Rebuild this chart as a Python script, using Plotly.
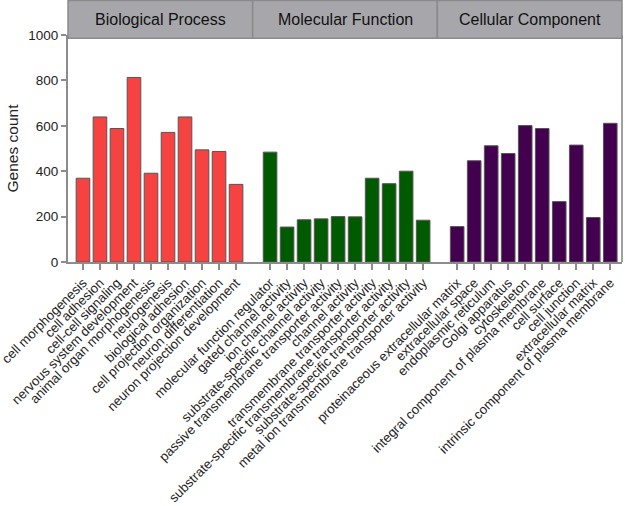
import plotly.graph_objects as go

groups = ["Biological Process", "Molecular Function", "Cellular Component"]
group_colors = ["#f74242", "#005a00", "#42004f"]

bp_terms = ["cell morphogenesis", "cell adhesion", "cell-cell signaling",
            "nervous system development", "animal organ morphogenesis", "neurogenesis",
            "biological adhesion", "cell projection organization", "neuron differentiation",
            "neuron projection development"]
bp_counts = [369, 639, 588, 813, 391, 571, 639, 494, 487, 342]

mf_terms = ["molecular function regulator", "gated channel activity", "ion channel activity",
            "substrate-specific channel activity", "passive transmembrane transporter activity",
            "channel activity", "transmembrane transporter activity",
            "substrate-specific transmembrane transporter activity",
            "substrate-specific transporter activity",
            "metal ion transmembrane transporter activity"]
mf_counts = [484, 154, 186, 190, 200, 199, 369, 345, 400, 184]

cc_terms = ["proteinaceous extracellular matrix", "extracellular space", "endoplasmic reticulum",
            "Golgi apparatus", "cytoskeleton", "integral component of plasma membrane",
            "cell surface", "cell junction", "extracellular matrix",
            "intrinsic component of plasma membrane"]
cc_counts = [156, 446, 512, 478, 601, 588, 266, 515, 196, 611]

y_ticks = [0, 200, 400, 600, 800, 1000]

all_terms = [bp_terms, mf_terms, cc_terms]
all_counts = [bp_counts, mf_counts, cc_counts]

fig = go.Figure()
tickvals, ticktext = [], []
pos = 0
for g, (terms, counts, col) in enumerate(zip(all_terms, all_counts, group_colors)):
    xs = list(range(pos, pos + len(terms)))
    fig.add_trace(go.Bar(x=xs, y=counts, name=groups[g], width=0.8,
                         marker=dict(color=col, line=dict(color="#555555", width=1)),
                         showlegend=False, hoverinfo="skip"))
    tickvals += xs
    ticktext += terms
    pos += len(terms) + 1

W, H = 625, 506
ml, mr, mt, mb = 68, 3, 34.5, 243.7
ph = H - mt - mb
fig.update_layout(
    width=W, height=H,
    margin=dict(l=ml, r=mr, t=mt, b=mb, autoexpand=False),
    paper_bgcolor="white", plot_bgcolor="white",
    font=dict(family="Liberation Sans, Arial, sans-serif", color="#222222", size=12),
    bargap=0.2,
    xaxis=dict(range=[-0.88, 31.69], tickmode="array", tickvals=tickvals, ticktext=ticktext,
               tickangle=-45, ticks="outside", ticklen=6, tickcolor="#8c8c8c", tickwidth=1.5,
               showline=True, linecolor="#8c8c8c", linewidth=2, showgrid=False, zeroline=False,
               tickfont=dict(size=13.2, color="#222222"), automargin=False,
               ticklabeloverflow="allow"),
    yaxis=dict(range=[0, 1000], tickvals=y_ticks, ticks="outside", ticklen=5,
               tickcolor="#8c8c8c", tickwidth=1.5, showline=True, linecolor="#8c8c8c",
               linewidth=2, showgrid=False, zeroline=False,
               tickfont=dict(size=13.5, color="#222222"),
               title=dict(text="Genes count", font=dict(size=15.5, color="#222222"), standoff=6),
               automargin=False),
)

# right border
fig.add_shape(type="line", xref="paper", yref="paper", x0=1, x1=1, y0=0, y1=1,
              line=dict(color="#a0a0a0", width=2))

# header boxes
y0 = (H - mb - 37.7) / ph
y1 = (H - mb) / ph
for i, name in enumerate(groups):
    fig.add_shape(type="rect", xref="paper", yref="paper", x0=i / 3, x1=(i + 1) / 3,
                  y0=y0, y1=y1, fillcolor="#a7a7ab", line=dict(color="#8a8a8a", width=1.5),
                  layer="above")
    fig.add_annotation(xref="paper", yref="paper", x=(i + 0.5) / 3, y=(y0 + y1) / 2,
                       text=name, showarrow=False, font=dict(size=16, color="#111111"),
                       xanchor="center", yanchor="middle")

fig.write_html("out.html", config={"displayModeBar": False},
               post_script="document.body.style.margin='0';document.body.style.overflow='hidden';")
